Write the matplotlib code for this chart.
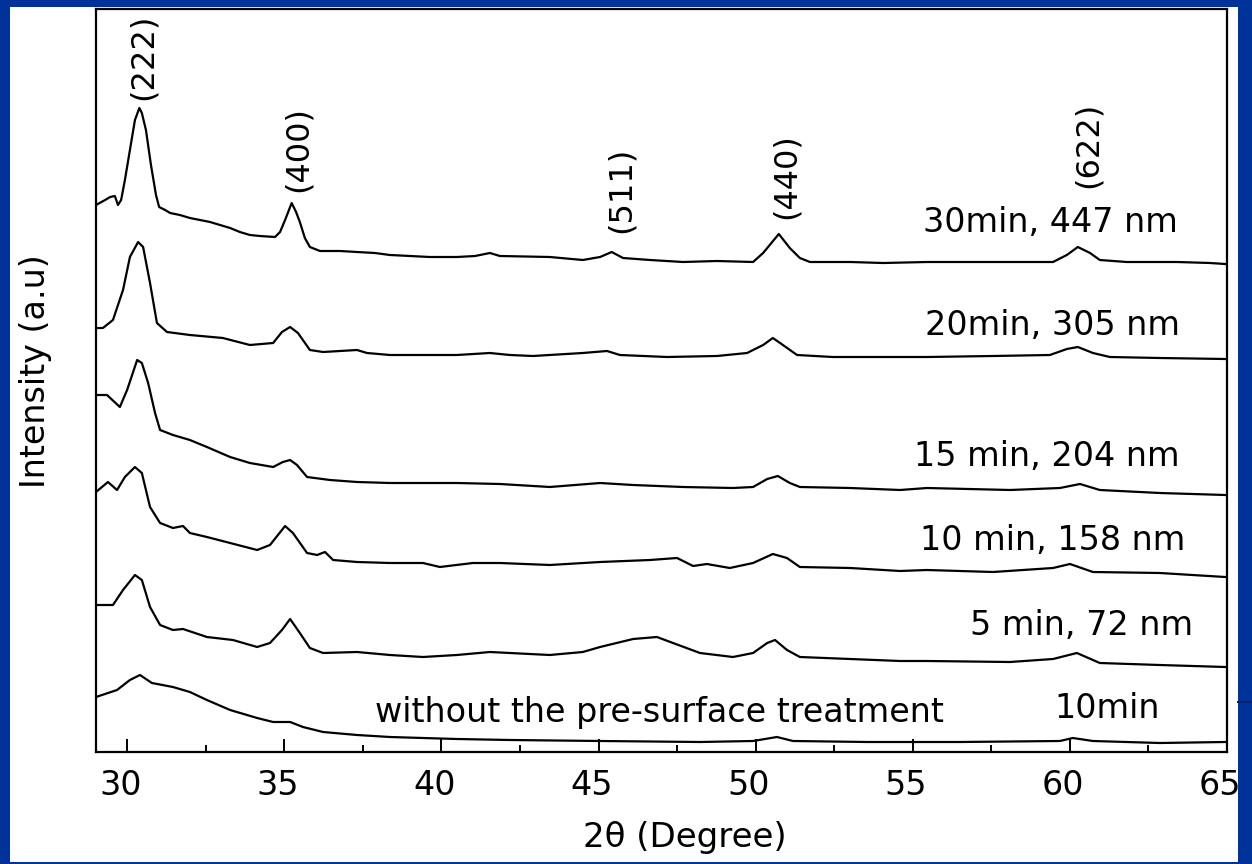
import matplotlib
matplotlib.use('Agg')
import matplotlib.pyplot as plt
import matplotlib.ticker as ticker
from matplotlib.patches import Rectangle
from matplotlib.transforms import ScaledTranslation

plt.rcParams['font.family'] = ['DejaVu Sans']

# XRD patterns, stacked (intensity in a.u., offset already included)
tt_30 = [29.00, 29.29, 29.45, 29.60, 29.70, 29.80, 29.92, 30.08, 30.24, 30.38, 30.46, 30.59, 30.75, 30.91,
         31.01, 31.20, 31.36, 31.67, 31.99, 32.31, 32.63, 32.95, 33.27, 33.58, 33.90, 34.22, 34.70, 34.86,
         35.02, 35.23, 35.37, 35.49, 35.65, 35.81, 36.13, 36.77, 37.31, 37.88, 38.36, 39.00, 39.63, 40.49,
         41.07, 41.54, 41.86, 43.45, 44.50, 45.05, 45.42, 45.78, 46.64, 47.69, 48.77, 49.92, 50.24, 50.74,
         51.09, 51.41, 51.73, 53.01, 54.06, 55.46, 57.56, 59.47, 59.91, 60.26, 60.65, 60.96, 61.82, 63.42,
         64.47, 64.95]
int_30 = [547, 552, 555, 556, 547, 552, 572, 602, 632, 644, 639, 622, 587, 557,
          545, 542, 539, 537, 534, 532, 530, 527, 524, 520, 517, 516, 515, 520,
          532, 549, 540, 530, 514, 505, 501, 501, 500, 499, 497, 496, 495, 495,
          496, 499, 496, 495, 492, 495, 500, 494, 492, 490, 491, 490, 499, 518,
          504, 494, 490, 490, 489, 490, 490, 490, 497, 505, 499, 492, 490, 490,
          489, 488]

tt_20 = [29.00, 29.22, 29.54, 29.86, 30.08, 30.34, 30.50, 30.72, 30.94, 31.26, 31.99, 33.04, 33.90, 34.64,
         34.92, 35.18, 35.43, 35.81, 36.23, 37.31, 37.63, 38.36, 39.41, 40.49, 41.54, 42.18, 42.91, 44.50,
         45.27, 45.68, 47.18, 48.77, 49.73, 50.24, 50.55, 50.87, 51.32, 52.46, 54.06, 55.46, 57.56, 59.37,
         59.91, 60.26, 60.74, 61.28, 62.87, 64.95]
int_20 = [424, 424, 432, 462, 495, 510, 505, 469, 429, 420, 417, 414, 407, 409,
          420, 425, 419, 402, 400, 402, 399, 397, 397, 397, 399, 397, 396, 399,
          401, 397, 395, 396, 399, 407, 414, 407, 397, 395, 395, 395, 396, 397,
          403, 405, 399, 395, 394, 393]

tt_15 = [29.00, 29.35, 29.76, 29.99, 30.31, 30.46, 30.66, 30.88, 31.04, 31.45, 31.99, 32.53, 33.27, 33.90,
         34.64, 34.95, 35.18, 35.40, 35.72, 36.45, 37.31, 38.36, 39.41, 40.49, 41.86, 43.45, 45.05, 46.10,
         47.69, 49.28, 49.92, 50.37, 50.71, 51.09, 51.41, 53.01, 54.60, 55.46, 58.10, 59.69, 60.33, 60.96,
         62.87, 64.95]
int_15 = [357, 357, 345, 362, 392, 389, 369, 339, 322, 317, 312, 305, 295, 289,
          285, 290, 292, 287, 275, 272, 270, 269, 269, 269, 268, 265, 269, 267,
          265, 264, 265, 273, 276, 269, 265, 264, 262, 264, 262, 264, 268, 262,
          259, 257]

tt_10 = [29.00, 29.38, 29.67, 29.92, 30.24, 30.46, 30.72, 31.04, 31.45, 31.77, 31.99, 32.53, 33.27, 34.13,
         34.54, 35.02, 35.27, 35.72, 36.04, 36.29, 36.55, 37.31, 38.36, 39.41, 39.95, 41.00, 41.86, 43.45,
         45.05, 46.64, 47.50, 48.01, 48.45, 49.18, 49.92, 50.55, 51.00, 51.41, 53.01, 54.60, 55.46, 57.56,
         59.47, 60.01, 60.74, 62.87, 64.95]
int_10 = [260, 270, 262, 275, 285, 279, 245, 229, 224, 226, 219, 215, 209, 202,
          207, 226, 219, 199, 197, 200, 192, 190, 189, 189, 185, 189, 189, 187,
          190, 192, 194, 186, 188, 184, 189, 198, 194, 185, 184, 181, 182, 180,
          184, 188, 180, 179, 175]

tt_5 = [29.00, 29.54, 29.86, 30.24, 30.46, 30.72, 31.04, 31.45, 31.77, 32.53, 33.36, 34.13, 34.54, 34.92,
        35.18, 35.49, 35.81, 36.23, 37.31, 38.36, 39.41, 40.49, 41.54, 42.18, 43.45, 44.50, 45.05, 46.10,
        46.86, 47.37, 48.23, 49.28, 49.92, 50.37, 50.62, 51.00, 51.41, 53.01, 54.60, 55.46, 58.10, 59.47,
        60.23, 60.96, 62.87, 64.95]
int_5 = [147, 147, 162, 177, 172, 145, 127, 122, 123, 115, 112, 105, 109, 122,
         133, 119, 104, 99, 100, 97, 95, 97, 100, 99, 97, 100, 105, 113,
         115, 109, 99, 95, 99, 109, 112, 102, 95, 93, 91, 91, 90, 93,
         99, 89, 87, 85]

tt_none = [29.00, 29.67, 30.08, 30.40, 30.78, 31.45, 31.99, 32.53, 33.27, 34.13, 34.64, 35.18, 35.59, 36.23,
           37.31, 38.36, 39.41, 40.49, 42.18, 45.05, 48.23, 49.92, 50.68, 51.19, 53.55, 56.51, 59.69, 60.10,
           60.74, 62.87, 64.95]
int_none = [55, 62, 72, 77, 69, 65, 60, 52, 42, 34, 30, 30, 25, 20,
            17, 15, 14, 13, 12, 11, 10, 11, 15, 11, 10, 10, 11, 14,
            11, 9, 10]

# sample labels: text, right end (2theta), baseline (a.u.)
sample_labels = ['30min, 447 nm', '20min, 305 nm', '15 min, 204 nm', '10 min, 158 nm', '5 min, 72 nm']
sample_x = [63.45, 63.51, 63.51, 63.67, 63.92]
sample_y = [520, 417, 286, 202, 117]

# Miller indices of the peaks
hkl_labels = ['(222)', '(400)', '(511)', '(440)', '(622)']
hkl_x = [30.50, 35.43, 45.71, 50.97, 60.58]
hkl_y = [695, 603, 562, 576, 607]

BLUE = '#003399'

fig = plt.figure(figsize=(12.52, 8.64), dpi=100, facecolor=BLUE)
# white slide panel behind the chart
fig.patches.append(Rectangle((10 / 1252, 2 / 864), 1228 / 1252, 855 / 864,
                             transform=fig.transFigure, facecolor='white', edgecolor='none', zorder=-5))
# blue strip on the right hides part of the last tick label, as on the slide
fig.patches.append(Rectangle((1238 / 1252, 0), 14 / 1252, 1,
                             transform=fig.transFigure, facecolor=BLUE, edgecolor='none', zorder=10))
fig.lines.append(plt.Line2D([1238 / 1252, 1], [1 - 702 / 864, 1 - 702 / 864],
                            transform=fig.transFigure, color='#0a2470', lw=1.5, zorder=11))

ax = fig.add_axes([96 / 1252, 1 - 752 / 864, 1130.7 / 1252, 743 / 864])
ax.set_facecolor('white')

for tt, ii in [(tt_30, int_30), (tt_20, int_20), (tt_15, int_15),
               (tt_10, int_10), (tt_5, int_5), (tt_none, int_none)]:
	ax.plot(tt, ii, color='black', lw=1.6)

ax.set_xlim(29, 65)
ax.set_ylim(0, 743)

ax.xaxis.set_major_locator(ticker.MultipleLocator(5))
ax.xaxis.set_minor_locator(ticker.MultipleLocator(2.5))
ax.tick_params(axis='x', which='major', direction='in', length=9.5, width=1.4, pad=12, labelsize=24)
ax.tick_params(axis='x', which='minor', direction='in', length=5, width=1.4)
ax.tick_params(axis='y', left=False, labelleft=False)
for sp in ax.spines.values():
	sp.set_linewidth(1.6)
# labels sit a little left of their ticks in the original
shift = ScaledTranslation(-7 / 100, 0, fig.dpi_scale_trans)
for lbl in ax.get_xticklabels():
	lbl.set_transform(lbl.get_transform() + shift)

for lab, x, y in zip(sample_labels, sample_x, sample_y):
	ax.text(x, y, lab, ha='right', va='baseline', fontsize=24)
ax.text(37.88, 30, 'without the pre-surface treatment', ha='left', va='baseline', fontsize=24)
ax.text(62.87, 34, '10min', ha='right', va='baseline', fontsize=24)

for lab, x, y in zip(hkl_labels, hkl_x, hkl_y):
	ax.text(x, y, lab, rotation=90, ha='center', va='center', fontsize=23)

fig.text(36 / 1252, 1 - 371 / 864, 'Intensity (a.u)', rotation=90, ha='center', va='center', fontsize=24)
fig.text(685 / 1252, 1 - 838 / 864, '2θ (Degree)', ha='center', va='center', fontsize=24.5)

fig.savefig('out.png', dpi=100, facecolor=fig.get_facecolor())
